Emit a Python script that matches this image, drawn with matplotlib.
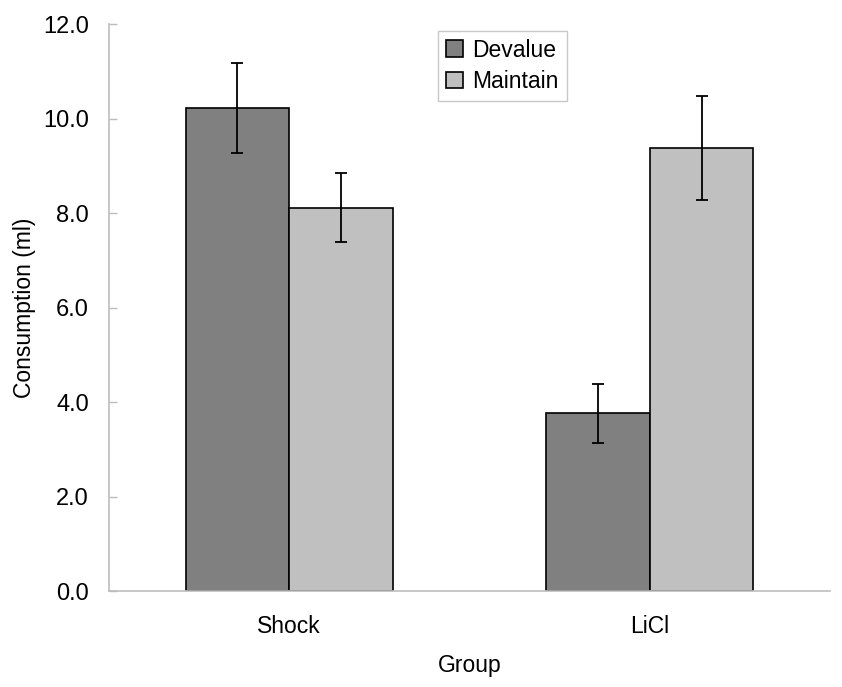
import numpy as np
import matplotlib
matplotlib.use('Agg')
import matplotlib.pyplot as plt

plt.rcParams['font.family'] = ['Liberation Sans', 'DejaVu Sans']

groups = ['Shock', 'LiCl']
series = ['Devalue', 'Maintain']
devalue = [10.22, 3.76]
devalue_err = [0.95, 0.62]
maintain = [8.11, 9.37]
maintain_err = [0.73, 1.10]
yticks = [0, 2, 4, 6, 8, 10, 12]

fig = plt.figure(figsize=(8.42, 6.87), dpi=100)
ax = fig.add_axes([0.1295, 0.1397, 0.8562, 0.8253])

x = np.arange(len(groups))
w = 0.2875
ekw = dict(ecolor='black', capsize=4.5, elinewidth=1.3, capthick=1.3)
ax.bar(x - w/2, devalue, w, yerr=devalue_err, color='#808080', edgecolor='black',
       linewidth=1.2, label=series[0], error_kw=ekw, zorder=2)
ax.bar(x + w/2, maintain, w, yerr=maintain_err, color='#c0c0c0', edgecolor='black',
       linewidth=1.2, label=series[1], error_kw=ekw, zorder=2)

ax.set_xlim(-0.5, 1.5)
ax.set_ylim(0, 12)
ax.set_yticks(yticks)
ax.set_yticklabels([f'{v:.1f}' for v in yticks])
ax.set_xticks(x)
ax.set_xticklabels(groups)

for s in ['top', 'right']:
    ax.spines[s].set_visible(False)
for s in ['left', 'bottom']:
    ax.spines[s].set_color('#bdbdbd')
    ax.spines[s].set_linewidth(1.2)

ax.tick_params(axis='y', direction='in', length=6, width=1, color='#bdbdbd',
               pad=14.5, labelsize=17)
ax.tick_params(axis='x', length=0, pad=17, labelsize=16.5)
ax.set_ylabel('Consumption (ml)', fontsize=16.5, labelpad=5)
ax.set_xlabel('Group', fontsize=16.5, labelpad=12)

leg = ax.legend(loc='upper left', bbox_to_anchor=(0.456, 0.988), fontsize=16.5,
                fancybox=False, framealpha=1, edgecolor='#c8c8c8',
                handlelength=0.75, handleheight=0.75, handletextpad=0.4,
                labelspacing=0.35, borderpad=0.35, borderaxespad=0)
leg.get_frame().set_linewidth(1.0)

plt.savefig('out.png', dpi=100, facecolor='white')
plt.close()
